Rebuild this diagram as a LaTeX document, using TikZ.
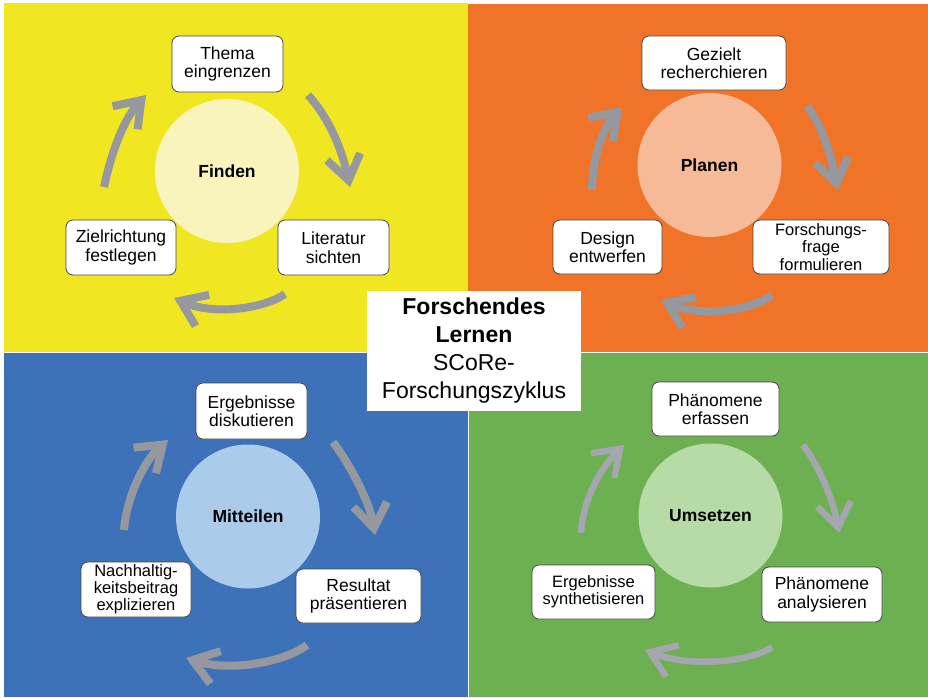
\documentclass[tikz,border=0pt]{standalone}
\usepackage{fontspec}
\setmainfont{Liberation Sans}
\usetikzlibrary{arrows.meta}
\definecolor{qyellow}{RGB}{240,230,34}
\definecolor{qorange}{RGB}{240,115,40}
\definecolor{qblue}{RGB}{62,114,184}
\definecolor{qgreen}{RGB}{108,176,82}
\definecolor{cyellow}{RGB}{248,244,188}
\definecolor{corange}{RGB}{246,186,152}
\definecolor{cblue}{RGB}{170,204,234}
\definecolor{cgreen}{RGB}{183,219,167}
\definecolor{arrowgray}{RGB}{150,152,160}
\definecolor{arrowlight}{RGB}{166,166,176}
\definecolor{boxline}{RGB}{70,70,70}
\begin{document}
\begin{tikzpicture}[x=1pt,y=-1pt,
  stepbox/.style={draw=boxline, line width=0.8pt, fill=white, rounded corners=7pt,
    align=center, inner sep=0pt, font=\fontsize{17.5}{18.5}\selectfont},
  smallbox/.style={stepbox, font=\fontsize{16.5}{17.2}\selectfont},
  hub/.style={circle, inner sep=0pt, minimum size=144pt, font=\bfseries\fontsize{17.5}{20}\selectfont},
  cyc/.style={line width=8pt, draw=arrowgray, -{Straight Barb[length=24pt,width=34pt]}},
  cyclight/.style={cyc, line width=6.5pt, draw=arrowlight}]
\useasboundingbox (0,0) rectangle (928,697);
\fill[white] (0,0) rectangle (928,697);
% quadrants
\fill[qyellow] (4,3) rectangle (468,352);
\fill[qorange] (468,4) rectangle (928,352);
\fill[qblue] (4,353) rectangle (468,697);
\fill[qgreen] (469,353) rectangle (928,697);

% ---------- Finden (yellow)
\node[hub, fill=cyellow] (yc) at (227,171) {Finden};
\node[stepbox, minimum width=111pt, minimum height=56pt] (y1) at (227.5,64) {Thema\\eingrenzen};
\node[stepbox, minimum width=111pt, minimum height=55pt] (y2) at (333.5,247.5) {Literatur\\sichten};
\node[stepbox, minimum width=110pt, minimum height=55pt] (y3) at (121,247.5) {Zielrichtung\\festlegen};
\coordinate (ya1s) at (308,95);  \coordinate (ya1e) at (350,187);
\coordinate (ya2s) at (285,294); \coordinate (ya2e) at (174,298);
\coordinate (ya3s) at (104,187); \coordinate (ya3e) at (146,95);
\draw[cyc] (ya1s) .. controls (331,120) and (343,154) .. (ya1e);
\draw[cyc] (ya2s) .. controls (265,308) and (215,316) .. (ya2e);
\draw[cyc] (ya3s) .. controls (111,154) and (123,120) .. (ya3e);

% ---------- Planen (orange)
\node[hub, fill=corange] (oc) at (709.5,165) {Planen};
\node[stepbox, minimum width=144pt, minimum height=54pt] (o1) at (714,63) {Gezielt\\recherchieren};
\node[smallbox, minimum width=136pt, minimum height=54pt] (o2) at (821,247) {Forschungs-\\frage\\formulieren};
\node[stepbox, minimum width=109pt, minimum height=54pt] (o3) at (607.5,247) {Design\\entwerfen};
\coordinate (oa1s) at (807,106); \coordinate (oa1e) at (838,190);
\coordinate (oa2s) at (772,295); \coordinate (oa2e) at (661,300);
\coordinate (oa3s) at (592,190); \coordinate (oa3e) at (622,107);
\draw[cyc] (oa1s) .. controls (825,130) and (832,161) .. (oa1e);
\draw[cyc] (oa2s) .. controls (752,310) and (702,318) .. (oa2e);
\draw[cyc] (oa3s) .. controls (592,162) and (602,128) .. (oa3e);

% ---------- Mitteilen (blue)
\node[hub, fill=cblue] (bc) at (248,516.5) {Mitteilen};
\node[stepbox, minimum width=111pt, minimum height=56pt] (b1) at (251.5,411) {Ergebnisse\\diskutieren};
\node[stepbox, minimum width=125pt, minimum height=54pt] (b2) at (358.5,596) {Resultat\\präsentieren};
\node[smallbox, minimum width=110pt, minimum height=55pt] (b3) at (136,589.5) {Nachhaltig-\\keitsbeitrag\\explizieren};
\coordinate (ba1s) at (333,442); \coordinate (ba1e) at (375,535);
\coordinate (ba2s) at (307,645); \coordinate (ba2e) at (186,658);
\coordinate (ba3s) at (124,530); \coordinate (ba3e) at (168,440);
\draw[cyc] (ba1s) .. controls (351,466) and (370,503) .. (ba1e);
\draw[cyc] (ba2s) .. controls (285,662) and (230,672) .. (ba2e);
\draw[cyc] (ba3s) .. controls (126,500) and (143,462) .. (ba3e);

% ---------- Umsetzen (green)
\node[hub, fill=cgreen] (gc) at (710.5,515.5) {Umsetzen};
\node[stepbox, minimum width=127pt, minimum height=54pt] (g1) at (715.5,409) {Phänomene\\erfassen};
\node[stepbox, minimum width=120pt, minimum height=55pt] (g2) at (822,594.5) {Phänomene\\analysieren};
\node[smallbox, minimum width=123pt, minimum height=54pt] (g3) at (593.5,592) {Ergebnisse\\synthetisieren};
\coordinate (ga1s) at (803,445); \coordinate (ga1e) at (839,533);
\coordinate (ga2s) at (772,647); \coordinate (ga2e) at (645,650);
\coordinate (ga3s) at (581,533); \coordinate (ga3e) at (624,445);
\draw[cyclight] (ga1s) .. controls (821,469) and (834,503) .. (ga1e);
\draw[cyclight] (ga2s) .. controls (750,662) and (690,668) .. (ga2e);
\draw[cyclight] (ga3s) .. controls (582,503) and (600,468) .. (ga3e);

% ---------- centre title
\node[fill=white, minimum width=214pt, minimum height=120pt, inner sep=0pt, align=center,
  font=\fontsize{23}{28}\selectfont] (title) at (474,351)
  {{\bfseries Forschendes}\\{\bfseries Lernen}\\SCoRe-\\Forschungszyklus};
\end{tikzpicture}
\end{document}
